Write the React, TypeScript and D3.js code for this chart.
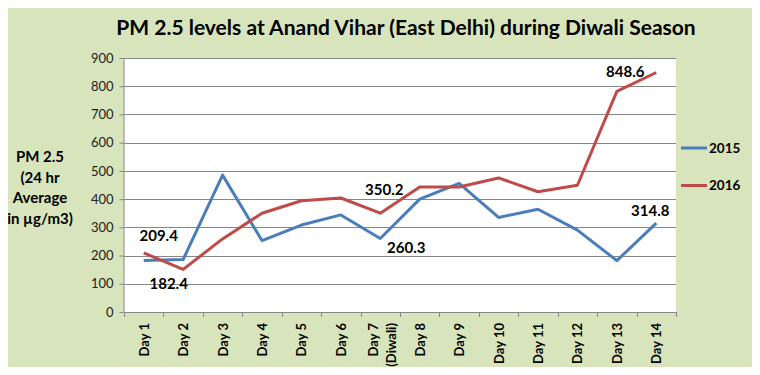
import React, { useEffect, useRef } from "react";
import * as d3 from "d3";

const days = ["Day 1", "Day 2", "Day 3", "Day 4", "Day 5", "Day 6", "Day 7|(Diwali)", "Day 8", "Day 9", "Day 10", "Day 11", "Day 12", "Day 13", "Day 14"];
const pm2015 = [182.4, 186, 485, 253, 308, 344, 260.3, 400, 456, 335, 364, 290, 182, 314.8];
const pm2016 = [209.4, 151, 259, 350, 394, 404, 350.2, 443, 443, 475, 426, 449, 782, 848.6];
const yTicks = [0, 100, 200, 300, 400, 500, 600, 700, 800, 900];
const seriesNames = ["2015", "2016"];
const colors = ["#4a7ebb", "#be4b48"];

// labelled points: series index, day index, dx, dy (from point to label centre)
const callouts = [
  { s: 1, i: 0, dx: 15, dy: -17 },
  { s: 0, i: 0, dx: 25, dy: 23 },
  { s: 1, i: 6, dx: 4, dy: -23 },
  { s: 0, i: 6, dx: 26, dy: 9 },
  { s: 1, i: 13, dx: -31, dy: -1 },
  { s: 0, i: 13, dx: -6, dy: -12 },
];

const App: React.FC = () => {
  const svgRef = useRef<SVGSVGElement | null>(null);

  useEffect(() => {
    const svg = d3.select(svgRef.current);
    svg.selectAll("*").remove();

    const width = 760;
    const height = 375;
    const plot = { left: 124, right: 676, top: 58, bottom: 312 };
    const font = "Lato, 'Open Sans', 'Liberation Sans', sans-serif";

    // background + frame
    svg.append("rect").attr("x", 0.5).attr("y", 0.5).attr("width", width - 1).attr("height", height - 1)
      .attr("fill", "#d8e4bc").attr("stroke", "#868686");

    svg.append("rect").attr("x", plot.left).attr("y", plot.top)
      .attr("width", plot.right - plot.left).attr("height", plot.bottom - plot.top).attr("fill", "#fff");

    const x = d3.scaleBand().domain(days).range([plot.left, plot.right]).padding(0);
    const y = d3.scaleLinear().domain([0, 900]).range([plot.bottom, plot.top]);
    const cx = (d: string) => x(d)! + x.bandwidth() / 2;

    // gridlines
    svg.append("g").selectAll("line").data(yTicks.slice(1)).join("line")
      .attr("x1", plot.left).attr("x2", plot.right)
      .attr("y1", (d) => Math.round(y(d)) + 0.5).attr("y2", (d) => Math.round(y(d)) + 0.5)
      .attr("stroke", "#868686").attr("stroke-width", 1);

    // y axis
    const yAxis = svg.append("g").attr("transform", `translate(${plot.left - 0.5},0)`)
      .call(d3.axisLeft(y).tickValues(yTicks).tickSize(4).tickSizeOuter(0));
    yAxis.select(".domain").attr("stroke", "#868686");
    yAxis.selectAll(".tick line").attr("stroke", "#868686");
    yAxis.selectAll("text").attr("font-family", font).attr("font-size", 13).attr("fill", "#222").attr("x", -10);

    // x axis
    svg.append("line").attr("x1", plot.left).attr("x2", plot.right)
      .attr("y1", plot.bottom + 0.5).attr("y2", plot.bottom + 0.5).attr("stroke", "#868686");
    const bounds = days.map((d) => x(d)!).concat([plot.right]);
    svg.append("g").selectAll("line").data(bounds).join("line")
      .attr("x1", (d) => Math.round(d) + 0.5).attr("x2", (d) => Math.round(d) + 0.5)
      .attr("y1", plot.bottom).attr("y2", plot.bottom + 5).attr("stroke", "#868686");

    const xl = svg.append("g").selectAll("text").data(days).join("text")
      .attr("transform", (d) => `translate(${cx(d)},323) rotate(-90)`)
      .attr("text-anchor", "end").attr("font-family", font).attr("font-size", 13)
      .attr("font-weight", "bold").attr("fill", "#000");
    xl.each(function (d) {
      const parts = d.split("|");
      const t = d3.select(this);
      parts.forEach((p, k) => {
        t.append("tspan").attr("x", 0)
          .attr("y", parts.length === 1 ? 5 : k === 0 ? -2 : 16)
          .text(p);
      });
    });

    // lines
    const series = [pm2015, pm2016];
    const line = d3.line<number>().x((_, i) => cx(days[i])).y((v) => y(v));
    series.forEach((vals, s) => {
      svg.append("path").datum(vals).attr("d", line).attr("fill", "none")
        .attr("stroke", colors[s]).attr("stroke-width", 3).attr("stroke-linejoin", "round");
    });

    // data labels
    svg.append("g").selectAll("text").data(callouts).join("text")
      .attr("x", (c) => cx(days[c.i]) + c.dx)
      .attr("y", (c) => y(series[c.s][c.i]) + c.dy)
      .attr("dy", "0.35em").attr("text-anchor", "middle")
      .attr("font-family", font).attr("font-size", 15).attr("font-weight", "bold").attr("fill", "#000")
      .text((c) => series[c.s][c.i].toFixed(1));

    // legend
    const lg = svg.append("g").selectAll("g").data(seriesNames).join("g")
      .attr("transform", (_, i) => `translate(681,${148 + i * 37.5})`);
    lg.append("line").attr("x1", 0).attr("x2", 26).attr("stroke", (_, i) => colors[i]).attr("stroke-width", 3);
    lg.append("text").attr("x", 28).attr("dy", "0.35em").attr("font-family", font)
      .attr("font-size", 13.5).attr("font-weight", "bold").attr("fill", "#000").text((d) => d);

    // title
    svg.append("text").attr("x", 406).attr("y", 35).attr("text-anchor", "middle")
      .attr("font-family", font).attr("font-size", 21)
      .attr("font-weight", "bold").attr("fill", "#000")
      .text("PM 2.5 levels at Anand Vihar (East Delhi) during Diwali Season");

    // y title
    const yt = svg.append("text").attr("text-anchor", "middle").attr("font-family", font)
      .attr("font-size", 15).attr("font-weight", "bold").attr("fill", "#000");
    ["PM 2.5", "(24 hr", "Average", "in µg/m3)"].forEach((t, k) => {
      yt.append("tspan").attr("x", 40).attr("y", 162 + k * 20.5).text(t);
    });

    svg.attr("width", width).attr("height", height);
  }, []);

  return (
    <div style={{ margin: -8 }}>
      <svg ref={svgRef} style={{ display: "block" }}></svg>
    </div>
  );
};

export default App;
